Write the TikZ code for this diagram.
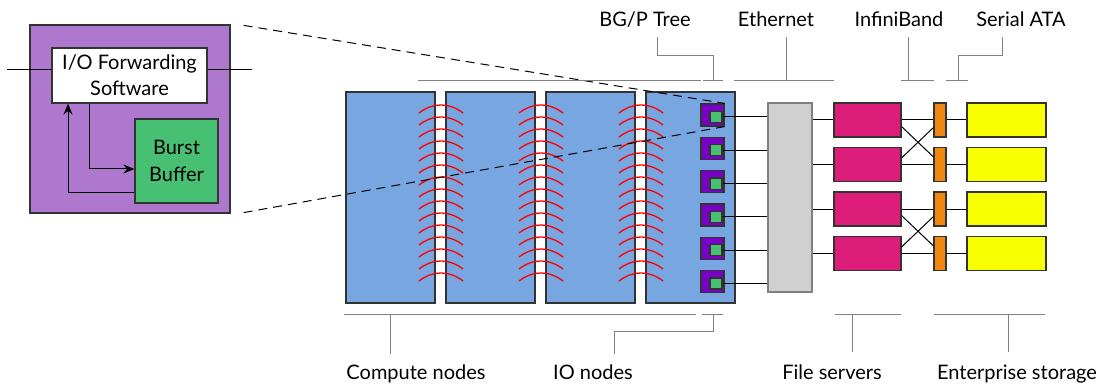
\documentclass[tikz,border=0pt]{standalone}
\usepackage{fontspec}
\setmainfont{Lato}
\usetikzlibrary{positioning}
\usetikzlibrary{arrows.meta}

\definecolor{boxedge}{HTML}{333333}
\definecolor{compblue}{HTML}{78A6E0}
\definecolor{iopurple}{HTML}{7A00C8}
\definecolor{bbgreen}{HTML}{48C074}
\definecolor{zoompurple}{HTML}{AE78CE}
\definecolor{fsmagenta}{HTML}{DC1E7A}
\definecolor{iborange}{HTML}{F0870F}
\definecolor{diskyellow}{HTML}{F8FF00}
\definecolor{swgrey}{HTML}{D0D0D0}
\definecolor{brgrey}{HTML}{808080}

\tikzset{
  box/.style={draw=boxedge,line width=1.2pt,inner sep=0pt},
  compute/.style={box,fill=compblue,minimum width=89pt,minimum height=211pt},
  ionode/.style={box,fill=iopurple,minimum width=23pt,minimum height=22pt},
  bbchip/.style={box,fill=bbgreen,minimum width=12pt,minimum height=11pt},
  fserver/.style={box,fill=fsmagenta,minimum width=67pt,minimum height=34pt},
  ibport/.style={box,fill=iborange,minimum width=12pt,minimum height=34pt},
  disk/.style={box,fill=diskyellow,minimum width=79pt,minimum height=34pt},
  wire/.style={line width=1pt},
  bracket/.style={draw=brgrey,line width=1pt},
  lbl/.style={anchor=base,inner sep=0pt,font=\fontsize{20}{22}\selectfont},
  radio/.style={red,line width=1.3pt},
}

\begin{document}
\begin{tikzpicture}[x=1pt,y=-1pt]
 \useasboundingbox (0,0) rectangle (1106,385);

 % zoomed view of one IO node
 \node[box,fill=zoompurple,minimum width=200pt,minimum height=188pt] (cpt) at (130,119) {};
 \node[box,fill=white,minimum width=155pt,minimum height=55pt,align=center,
       font=\fontsize{20}{26}\selectfont] (fwd) at (129.5,75.5) {I/O Forwarding\\Software};
 \node[box,fill=bbgreen,minimum width=83pt,minimum height=84pt,align=center,
       font=\fontsize{20}{27}\selectfont] (bbuf) at (176.5,161) {Burst\\Buffer};
 \coordinate (inL) at (7,70);
 \coordinate (inR) at (252,70);
 \draw[wire] (inL) -- (inL -| fwd.west);
 \draw[wire] (inR -| fwd.east) -- (inR);
 \draw[wire,-{Stealth[length=11pt,width=9pt]}] ([xshift=-40.5pt]fwd.south) |- ([yshift=-8pt]bbuf.west);
 \draw[wire,-{Stealth[length=11pt,width=9pt]}] ([yshift=-31pt]bbuf.west) -| ([xshift=-61.5pt]fwd.south);

 % compute racks
 \node[compute] (cn1) at (390.5,197.5) {};
 \node[compute] (cn2) at (490.5,197.5) {};
 \node[compute] (cn3) at (590.5,197.5) {};
 \node[compute] (cn4) at (690.5,197.5) {};
 \foreach \cx in {441,541,641}
  \foreach \t in {0,...,14}
   \draw[radio] (\cx-22,105+12*\t+8) .. controls (\cx-8,105+12*\t-2.7) and (\cx+8,105+12*\t-2.7) .. (\cx+22,105+12*\t+8);

 % switch and storage
 \node[box,draw=brgrey,fill=swgrey,minimum width=44pt,minimum height=189pt] (sw) at (790,197.5) {};
 \foreach \i/\y in {1/115,2/148.3,3/181.6,4/214.9,5/248.2,6/281.5} {
  \node[ionode] (io\i) at (712.5,\y) {};
  \node[bbchip] (bb\i) at (716,\y+2) {};
  \draw[wire] (bb\i.east) -- (bb\i.east -| sw.west);
 }
 \foreach \i/\y in {1/120,2/164.5,3/209,4/253.5} {
  \node[fserver] (fs\i) at (867.5,\y) {};
  \node[ibport] (ib\i) at (940,\y) {};
  \node[disk] (st\i) at (1006.5,\y) {};
  \draw[wire] (fs\i.west -| sw.east) -- (fs\i.west);
  \draw[wire] (fs\i) -- (ib\i);
  \draw[wire] (ib\i) -- (st\i);
 }
 \draw[wire] ([yshift=11pt]fs1.south east) -- ([yshift=-10pt]ib2.north west);
 \draw[wire] ([yshift=-11pt]fs2.north east) -- ([yshift=10pt]ib1.south west);
 \draw[wire] ([yshift=11pt]fs3.south east) -- ([yshift=-10pt]ib4.north west);
 \draw[wire] ([yshift=-11pt]fs4.north east) -- ([yshift=10pt]ib3.south west);

 % zoom lines
 \draw[wire,dashed,dash pattern=on 9pt off 6pt] ([xshift=13pt,yshift=-1pt]cpt.north east) -- (io1.north east);
 \draw[wire,dashed,dash pattern=on 9pt off 6pt] ([xshift=13pt,yshift=1pt]cpt.south east) -- (io1.south east);

 % network labels
 \node[lbl] (tree) at (645,27) {BG/P Tree};
 \node[lbl] (eth) at (776,27) {Ethernet};
 \node[lbl] (ibl) at (899,27) {InfiniBand};
 \node[lbl] (sata) at (1021,27) {Serial ATA};
 \draw[bracket] (418,81) -- (701,81);
 \draw[bracket] (703,81) -- (723,81);
 \draw[bracket] (713,81) |- (657,56) -- (657,37);
 \draw[bracket] (734,81) -- (834,81);
 \draw[bracket] (786,81) -- (786,37);
 \draw[bracket] (901,81) -- (934,81);
 \draw[bracket] (908,81) -- (908,37);
 \draw[bracket] (946,81) -- (968,81);
 \draw[bracket] (958,81) |- (1002,56) -- (1002,37);

 % component labels
 \node[lbl] (cnl) at (416,379) {Compute nodes};
 \node[lbl] (iol) at (593,379) {IO nodes};
 \node[lbl] (fsl) at (832,379) {File servers};
 \node[lbl] (stl) at (1017,379) {Enterprise storage};
 \draw[bracket] (344,314) -- (696,314);
 \draw[bracket] (390,314) -- (390,354);
 \draw[bracket] (702,314) -- (723,314);
 \draw[bracket] (713,314) |- (614,331) -- (614,354);
 \draw[bracket] (835,314) -- (901,314);
 \draw[bracket] (852,314) -- (852,352);
 \draw[bracket] (934,314) -- (1045,314);
 \draw[bracket] (1008,314) -- (1008,352);
\end{tikzpicture}
\end{document}
